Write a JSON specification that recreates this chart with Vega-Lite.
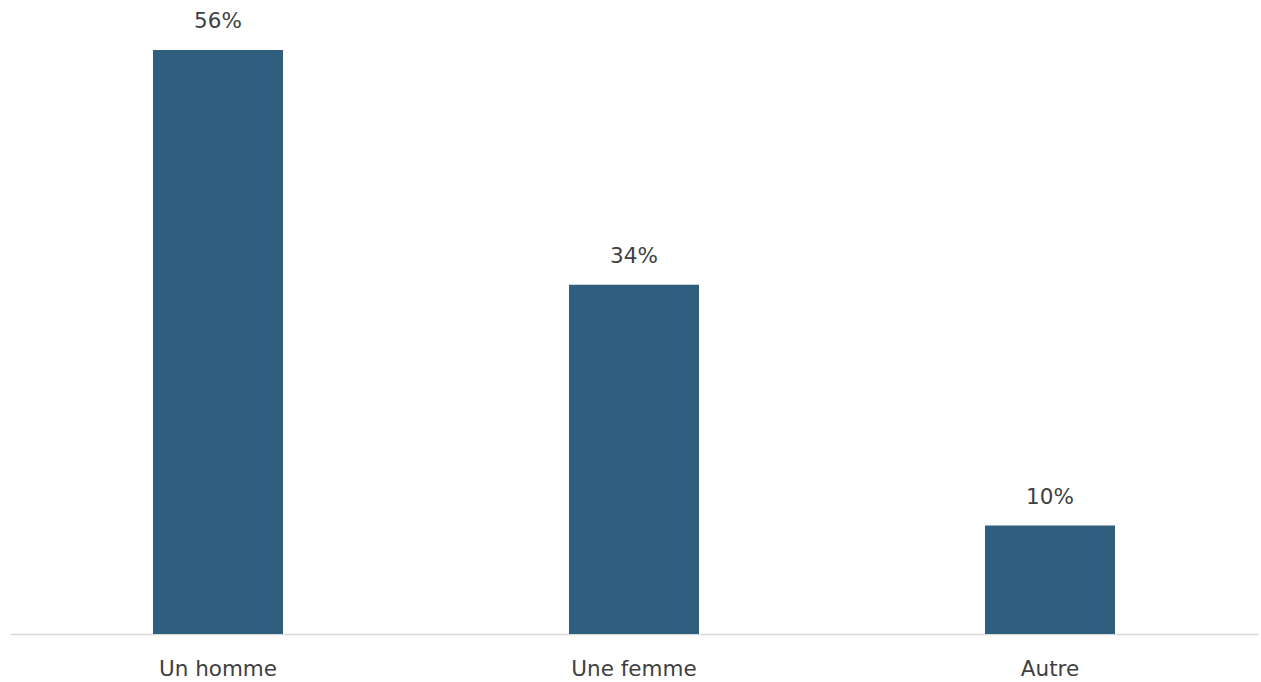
{
  "$schema": "https://vega.github.io/schema/vega-lite/v6.json",
  "width": 1248,
  "height": 584,
  "autosize": "none",
  "padding": {"left": 10, "top": 50, "right": 3, "bottom": 48},
  "background": "white",
  "config": {"view": {"stroke": null}, "font": "DejaVu Sans"},
  "data": {"values": [
    {"cat": "Un homme", "value": 56, "label": "56%"},
    {"cat": "Une femme", "value": 33.5, "label": "34%"},
    {"cat": "Autre", "value": 10.4, "label": "10%"}
  ]},
  "encoding": {
    "x": {"field": "cat", "type": "nominal", "sort": null,
      "scale": {"paddingInner": 0.6875, "paddingOuter": 0.34375},
      "axis": {"title": null, "labelAngle": 0, "labelFontSize": 21.5, "labelColor": "#404040", "labelPadding": 24, "ticks": false, "domainColor": "#d9d9d9", "domainWidth": 1.5, "labelFont": "DejaVu Sans"}},
    "y": {"field": "value", "type": "quantitative",
      "scale": {"domain": [0, 56], "nice": false},
      "axis": null}
  },
  "layer": [
    {"mark": {"type": "bar", "color": "#2F5E7E"}},
    {"mark": {"type": "text", "dy": -28, "fontSize": 21.5, "color": "#404040", "font": "DejaVu Sans"},
     "encoding": {"text": {"field": "label"}}}
  ]
}
